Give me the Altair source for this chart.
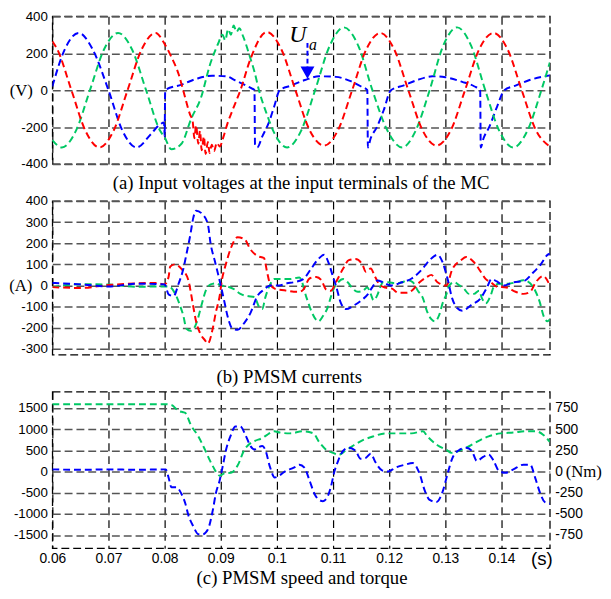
import altair as alt
import pandas as pd

# ---------------- shared x axis ----------------
X_DOMAIN = [0.06, 0.1486]
X_TICKS = [0.06, 0.07, 0.08, 0.09, 0.10, 0.11, 0.12, 0.13, 0.14]

CAPTION_A = "(a) Input voltages at the input terminals of the MC"
CAPTION_B = "(b) PMSM currents"
CAPTION_C = "(c) PMSM speed and torque"

# ---------------- (a) input voltages (V) ----------------
VA_DOMAIN = [-400, 400]
VA_TICKS = [-400, -200, 0, 200, 400]

a_red_t = [0.0600, 0.0609, 0.0634, 0.0659, 0.0684, 0.0709, 0.0734, 0.0759, 0.0784, 0.0800,
           0.0812, 0.0825, 0.0833, 0.0845, 0.0850, 0.0853, 0.0856, 0.0860, 0.0863, 0.0866,
           0.0870, 0.0873, 0.0877, 0.0880, 0.0884, 0.0888, 0.0893, 0.0898, 0.0905, 0.0912,
           0.0922, 0.0935, 0.0953, 0.0982, 0.1008, 0.1033, 0.1058, 0.1084, 0.1109, 0.1134,
           0.1159, 0.1184, 0.1209, 0.1234, 0.1259, 0.1284, 0.1310, 0.1335, 0.1360, 0.1386,
           0.1411, 0.1436, 0.1461, 0.1486]
a_red_v = [265, 220, 0, -220, -310, -220, 0, 220, 310, 250,
           180, 86, 0, -130, -170, -260, -190, -290, -220, -325,
           -250, -345, -280, -340, -295, -330, -285, -305, -250, -180,
           -100, 0, 170, 315, 220, 0, -215, -300, -215, 0,
           220, 310, 220, 0, -215, -300, -215, 0, 220, 310,
           220, 0, -215, -305]

a_green_t = [0.0600, 0.0617, 0.0642, 0.0667, 0.0692, 0.0717, 0.0742, 0.0767, 0.0792, 0.0800,
             0.0812, 0.0830, 0.0847, 0.0865, 0.0881, 0.0895, 0.0903, 0.0908, 0.0913, 0.0918,
             0.0923, 0.0928, 0.0933, 0.0940, 0.0952, 0.0960, 0.0968, 0.0982, 0.0995, 0.1018,
             0.1043, 0.1068, 0.1094, 0.1119, 0.1145, 0.1170, 0.1197, 0.1223, 0.1247, 0.1272,
             0.1296, 0.1321, 0.1346, 0.1371, 0.1396, 0.1421, 0.1446, 0.1471, 0.1486]
a_green_v = [-270, -310, -220, 0, 220, 310, 220, 0, -220, -255,
             -320, -290, -157, -38, 140, 250, 300, 270, 330, 300,
             350, 315, 335, 290, 180, 100, 0, -130, -230, -310,
             -220, 0, 240, 340, 240, 0, -220, -310, -220, 0,
             240, 340, 240, 0, -220, -310, -220, 0, 150]

a_blue_t = [0.0600, 0.0622, 0.0647, 0.0672, 0.0700, 0.0725, 0.0750, 0.0775, 0.0790, 0.0799,
            0.0800, 0.0801, 0.0830, 0.0860, 0.0885, 0.0910, 0.0925, 0.0945, 0.0955, 0.0960,
            0.0961, 0.0965, 0.0974, 0.0985, 0.0995, 0.1005, 0.1025, 0.1050, 0.1075, 0.1105,
            0.1130, 0.1150, 0.1161, 0.1162, 0.1167, 0.1178, 0.1190, 0.1203, 0.1225, 0.1250,
            0.1277, 0.1300, 0.1330, 0.1352, 0.1362, 0.1363, 0.1368, 0.1378, 0.1392, 0.1405,
            0.1425, 0.1450, 0.1486]
a_blue_v = [20, 220, 310, 220, 0, -220, -310, -240, -190, -175,
            -250, 0, 30, 65, 78, 75, 54, 25, 10, 0,
            -295, -310, -250, -180, -90, 0, 25, 55, 75, 72,
            50, 20, 0, -310, -260, -200, -110, 0, 25, 55,
            75, 70, 45, 20, 0, -310, -260, -200, -90, 0,
            25, 55, 80]

# annotation "U_a" with arrow (data coordinates of panel a)
UA_TEXT_T, UA_TEXT_V = 0.1037, 261
UA_SUB_T, UA_SUB_V = 0.1064, 219
UA_ARROW_T, UA_ARROW_TOP, UA_ARROW_BOTTOM, UA_HEAD_V = 0.10544, 256, 123, 95

# ---------------- (b) PMSM currents (A) ----------------
IB_DOMAIN = [-328, 400]
IB_TICKS = [-300, -200, -100, 0, 100, 200, 300, 400]

b_red_t = [0.0600, 0.0650, 0.0700, 0.0750, 0.0785, 0.0800, 0.0807, 0.0810, 0.0819, 0.0830,
           0.0842, 0.0847, 0.0851, 0.0856, 0.0863, 0.0872, 0.0877, 0.0886, 0.0891, 0.0898,
           0.0902, 0.0909, 0.0918, 0.0930, 0.0942, 0.0953, 0.0965, 0.0977, 0.0982, 0.0988,
           0.0996, 0.1005, 0.1018, 0.1030, 0.1040, 0.1047, 0.1058, 0.1070, 0.1079, 0.1088,
           0.1096, 0.1105, 0.1118, 0.1128, 0.1140, 0.1153, 0.1158, 0.1167, 0.1175, 0.1184,
           0.1193, 0.1205, 0.1216, 0.1232, 0.1240, 0.1254, 0.1267, 0.1275, 0.1286, 0.1302,
           0.1312, 0.1328, 0.1337, 0.1351, 0.1363, 0.1372, 0.1381, 0.1391, 0.1409, 0.1425,
           0.1439, 0.1451, 0.1461, 0.1474, 0.1486]
b_red_v = [-8, -12, 2, 10, 12, 5, 40, 90, 100, 78,
           27, -38, -100, -170, -225, -260, -275, -200, -130, -50,
           25, 100, 177, 228, 220, 170, 140, 130, 70, 5,
           -15, -20, -25, -30, -30, -20, 33, 40, 25, -20,
           -25, 15, 80, 120, 125, 95, 65, 80, 40, 0,
           -10, -15, -35, -35, -25, 15, 40, 50, 15, 0,
           75, 120, 135, 110, 65, 30, 15, -5, -10, -30,
           -40, -30, 15, 45, 0]

b_green_t = [0.0600, 0.0650, 0.0700, 0.0750, 0.0800, 0.0807, 0.0819, 0.0828, 0.0833, 0.0839,
             0.0846, 0.0854, 0.0860, 0.0865, 0.0874, 0.0882, 0.0891, 0.0900, 0.0912, 0.0925,
             0.0935, 0.0947, 0.0960, 0.0968, 0.0974, 0.0979, 0.0988, 0.0995, 0.1005, 0.1023,
             0.1040, 0.1053, 0.1061, 0.1074, 0.1082, 0.1091, 0.1096, 0.1102, 0.1109, 0.1118,
             0.1126, 0.1135, 0.1144, 0.1153, 0.1161, 0.1167, 0.1172, 0.1179, 0.1184, 0.1189,
             0.1198, 0.1211, 0.1223, 0.1233, 0.1242, 0.1251, 0.1260, 0.1267, 0.1275, 0.1281,
             0.1289, 0.1295, 0.1302, 0.1307, 0.1316, 0.1325, 0.1333, 0.1342, 0.1351, 0.1360,
             0.1365, 0.1372, 0.1381, 0.1386, 0.1395, 0.1409, 0.1426, 0.1439, 0.1451, 0.1460,
             0.1468, 0.1475, 0.1482, 0.1486]
b_green_v = [-8, 6, 4, -6, -5, -5, -40, -100, -140, -205,
             -215, -195, -150, -100, -20, 5, 10, 0, -5, -20,
             -40, -50, -55, -100, -112, -60, 5, 30, 30, 30,
             38, -60, -120, -170, -145, -100, -55, -10, 15, 30,
             15, -15, -30, -25, -10, -40, -70, -45, -8, 15,
             15, 10, 15, 25, 15, -25, -60, -120, -160, -170,
             -140, -85, -40, 0, 15, 0, -15, -40, -40, -25,
             -60, -85, -45, -8, 8, 8, 15, 25, 10, -25,
             -78, -145, -170, -160]

b_blue_t = [0.0600, 0.0650, 0.0700, 0.0750, 0.0800, 0.0807, 0.0816, 0.0825, 0.0833, 0.0839,
            0.0846, 0.0851, 0.0856, 0.0868, 0.0877, 0.0882, 0.0889, 0.0895, 0.0900, 0.0907,
            0.0912, 0.0921, 0.0930, 0.0942, 0.0953, 0.0965, 0.0977, 0.0988, 0.1004, 0.1018,
            0.1030, 0.1047, 0.1061, 0.1074, 0.1084, 0.1093, 0.1100, 0.1105, 0.1114, 0.1123,
            0.1137, 0.1153, 0.1161, 0.1170, 0.1179, 0.1189, 0.1202, 0.1223, 0.1240, 0.1258,
            0.1272, 0.1286, 0.1295, 0.1304, 0.1312, 0.1321, 0.1330, 0.1346, 0.1363, 0.1374,
            0.1382, 0.1391, 0.1404, 0.1421, 0.1439, 0.1456, 0.1470, 0.1482, 0.1486]
b_blue_v = [12, 5, -5, 8, 5, -42, -50, 9, 75, 150,
            243, 320, 354, 336, 290, 196, 120, 56, 0, -84,
            -145, -205, -210, -177, -130, -51, -20, 0, 0, 10,
            15, 30, 80, 126, 145, 100, 40, 0, -84, -112,
            -95, -65, -45, -8, 23, 15, 0, 15, 33, 75,
            120, 145, 110, 30, -60, -107, -120, -93, -60, -10,
            30, 20, 0, 15, 20, 60, 100, 145, 150]

# ---------------- (c) speed (left axis) and torque (right axis, Nm) ----------------
SC_DOMAIN = [-1812, 1886]
SC_TICKS = [-1500, -1000, -500, 0, 500, 1000, 1500]
TQ_DOMAIN = [-906, 943]
TQ_TICKS = [-750, -500, -250, 0, 250, 500, 750]

c_green_t = [0.0600, 0.0700, 0.0800, 0.0812, 0.0825, 0.0833, 0.0837, 0.0847, 0.0860, 0.0872,
             0.0881, 0.0889, 0.0895, 0.0898, 0.0907, 0.0918, 0.0930, 0.0942, 0.0953, 0.0961,
             0.0974, 0.0982, 0.0995, 0.1005, 0.1023, 0.1047, 0.1065, 0.1075, 0.1088, 0.1100,
             0.1109, 0.1123, 0.1137, 0.1153, 0.1172, 0.1193, 0.1216, 0.1240, 0.1260, 0.1268,
             0.1286, 0.1302, 0.1311, 0.1321, 0.1337, 0.1356, 0.1377, 0.1398, 0.1421, 0.1444,
             0.1461, 0.1474, 0.1486]
c_green_v = [1590, 1590, 1590, 1570, 1430, 1400, 1380, 1090, 830, 510,
             250, 50, -70, -100, -40, -30, 140, 510, 670, 725,
             790, 860, 950, 920, 900, 950, 900, 700, 510, 440,
             390, 500, 620, 740, 830, 900, 900, 900, 950, 830,
             620, 510, 440, 470, 560, 700, 830, 900, 920, 950,
             950, 870, 700]

c_blue_t = [0.0600, 0.0650, 0.0700, 0.0750, 0.0800, 0.0802, 0.0807, 0.0812, 0.0821, 0.0830,
            0.0837, 0.0842, 0.0851, 0.0860, 0.0868, 0.0877, 0.0886, 0.0891, 0.0898, 0.0904,
            0.0909, 0.0918, 0.0926, 0.0935, 0.0944, 0.0953, 0.0960, 0.0965, 0.0974, 0.0979,
            0.0988, 0.0996, 0.1005, 0.1014, 0.1030, 0.1040, 0.1049, 0.1058, 0.1067, 0.1075,
            0.1082, 0.1091, 0.1096, 0.1102, 0.1109, 0.1118, 0.1128, 0.1140, 0.1149, 0.1158,
            0.1167, 0.1175, 0.1188, 0.1198, 0.1211, 0.1228, 0.1242, 0.1254, 0.1263, 0.1272,
            0.1284, 0.1295, 0.1304, 0.1312, 0.1325, 0.1337, 0.1347, 0.1356, 0.1368, 0.1377,
            0.1386, 0.1395, 0.1407, 0.1421, 0.1439, 0.1451, 0.1460, 0.1468, 0.1477, 0.1486]
c_blue_v = [25, 20, 25, 20, 25, 25, -70, -185, -185, -265,
            -380, -510, -645, -740, -740, -685, -450, -265, -105, 80,
            245, 430, 530, 530, 430, 300, 260, 280, 300, 260,
            45, -70, -45, 0, 45, 80, 45, -105, -265, -335,
            -350, -285, -185, -10, 125, 245, 280, 245, 150, 160,
            210, 115, 10, 0, 45, 80, 100, -25, -220, -335,
            -360, -240, -25, 150, 255, 280, 245, 125, 175, 200,
            125, 10, -15, 25, 80, 80, -75, -240, -360, -380]

# ---------------- style ----------------
RED, GREEN, BLUE = "#ff0000", "#00c864", "#0000ff"
W = 505
H_A, H_B, H_C = 150, 156, 159
SANS = "Liberation Sans"
SERIF = "Liberation Serif"
NUM_LABEL = "datum.value < 0 ? '-' + format(-datum.value, 'd') : format(datum.value, 'd')"

X_SCALE = alt.Scale(domain=X_DOMAIN, nice=False, zero=False)


def x_axis(caption, caption_x, caption_y, show_labels):
    return alt.Axis(
        values=X_TICKS, labels=show_labels, format="~g", labelFont=SANS, labelFontSize=14,
        labelColor="black", labelPadding=3, labelFlush=False, labelOverlap=False,
        ticks=False, domain=False,
        grid=True, gridColor="black", gridDash=[8, 5], gridWidth=1.2,
        title=caption, titleFont=SERIF, titleFontSize=19, titleFontWeight="normal",
        titleColor="black", titleX=caption_x, titleY=caption_y,
        titleAlign="center", titleBaseline="middle",
    )


def y_axis(ticks, title, title_x, title_y):
    kw = dict(
        values=ticks, labelExpr=NUM_LABEL, labelFont=SANS, labelFontSize=13.5,
        labelColor="black", labelPadding=5, labelFlush=False, labelOverlap=False,
        ticks=False, domain=False,
        grid=True, gridColor="#555555", gridDash=[8, 4], gridWidth=1.5,
    )
    if title:
        kw.update(title=title, titleAngle=0, titleX=title_x, titleY=title_y,
                  titleFont=SERIF, titleFontSize=17, titleFontWeight="normal",
                  titleColor="black", titleAlign="center", titleBaseline="middle")
    else:
        kw.update(title=None)
    return alt.Axis(**kw)


def series(t, v, color, y_scale, xa, ya):
    df = pd.DataFrame({"t": t, "v": v})
    return alt.Chart(df).mark_line(
        color=color, strokeWidth=2, strokeDash=[7, 4], interpolate="monotone", clip=True
    ).encode(
        x=alt.X("t:Q", scale=X_SCALE, axis=xa),
        y=alt.Y("v:Q", scale=y_scale, axis=ya),
    )


# ---------- panel (a) ----------
ya_scale = alt.Scale(domain=VA_DOMAIN, nice=False, zero=False)
xa_axis = x_axis(CAPTION_A, 252, 19, False)
ya_axis = y_axis(VA_TICKS, "(V)", -32, 75)
enc_a = dict(x=alt.X("t:Q", scale=X_SCALE, axis=xa_axis), y=alt.Y("v:Q", scale=ya_scale, axis=ya_axis))

ua_main = alt.Chart(pd.DataFrame({"t": [UA_TEXT_T], "v": [UA_TEXT_V], "label": ["U"]})).mark_text(
    font=SERIF, fontStyle="italic", fontSize=24, color="black", baseline="alphabetic", align="center"
).encode(text="label:N", **enc_a)
ua_sub = alt.Chart(pd.DataFrame({"t": [UA_SUB_T], "v": [UA_SUB_V], "label": ["a"]})).mark_text(
    font=SERIF, fontStyle="italic", fontSize=16, color="black", baseline="alphabetic", align="center"
).encode(text="label:N", **enc_a)
ua_shaft = alt.Chart(pd.DataFrame({"t": [UA_ARROW_T], "v": [UA_ARROW_TOP], "v2": [UA_ARROW_BOTTOM]})).mark_rule(
    color=BLUE, strokeWidth=2, strokeDash=[5, 3]
).encode(y2="v2:Q", **enc_a)
ua_head = alt.Chart(pd.DataFrame({"t": [UA_ARROW_T], "v": [UA_HEAD_V]})).mark_point(
    shape="triangle-down", filled=True, color=BLUE, size=200, opacity=1
).encode(**enc_a)

panel_a = alt.layer(
    series(a_blue_t, a_blue_v, BLUE, ya_scale, xa_axis, ya_axis),
    series(a_green_t, a_green_v, GREEN, ya_scale, xa_axis, ya_axis),
    series(a_red_t, a_red_v, RED, ya_scale, xa_axis, ya_axis),
    ua_shaft, ua_head, ua_main, ua_sub,
).properties(width=W, height=H_A)

# ---------- panel (b) ----------
yb_scale = alt.Scale(domain=IB_DOMAIN, nice=False, zero=False)
xb_axis = x_axis(CAPTION_B, 240, 22, False)
yb_axis = y_axis(IB_TICKS, "(A)", -32.5, 86)
panel_b = alt.layer(
    series(b_green_t, b_green_v, GREEN, yb_scale, xb_axis, yb_axis),
    series(b_red_t, b_red_v, RED, yb_scale, xb_axis, yb_axis),
    series(b_blue_t, b_blue_v, BLUE, yb_scale, xb_axis, yb_axis),
).properties(width=W, height=H_B)

# ---------- panel (c) ----------
yc_scale = alt.Scale(domain=SC_DOMAIN, nice=False, zero=False)
tq_scale = alt.Scale(domain=TQ_DOMAIN, nice=False, zero=False)
xc_axis = x_axis(CAPTION_C, 253, 30, True)
yc_axis = y_axis(SC_TICKS, None, 0, 0)
tq_axis = alt.Axis(
    orient="right", values=TQ_TICKS, labelExpr=NUM_LABEL, labelFont=SANS, labelFontSize=14,
    labelColor="black", labelPadding=5, labelFlush=False, labelOverlap=False,
    ticks=False, domain=False, grid=False,
    title="(Nm)", titleAngle=0, titleX=34, titleY=81, titleFont=SERIF, titleFontSize=17,
    titleFontWeight="normal", titleColor="black", titleAlign="center", titleBaseline="middle",
)
speed_layer = series(c_green_t, c_green_v, GREEN, yc_scale, xc_axis, yc_axis)
torque_layer = series(c_blue_t, c_blue_v, BLUE, tq_scale, xc_axis, tq_axis)
s_label = alt.Chart(pd.DataFrame({"label": ["(s)"]})).mark_text(
    font=SANS, fontSize=19, color="black", baseline="middle", align="center"
).encode(text="label:N", x=alt.value(497), y=alt.value(H_C + 11))

panel_c = alt.layer(speed_layer, torque_layer, s_label).resolve_scale(y="independent").properties(
    width=W, height=H_C)

chart = alt.vconcat(panel_a, panel_b, panel_c, spacing=37.5, bounds="flush").properties(
    padding={"left": 0, "top": -4, "right": 0, "bottom": 0}, background="white"
).configure_view(
    stroke="black", strokeDash=[8, 4], strokeWidth=1.3
)

chart.save("out.html", embed_options={"renderer": "svg", "actions": False})
